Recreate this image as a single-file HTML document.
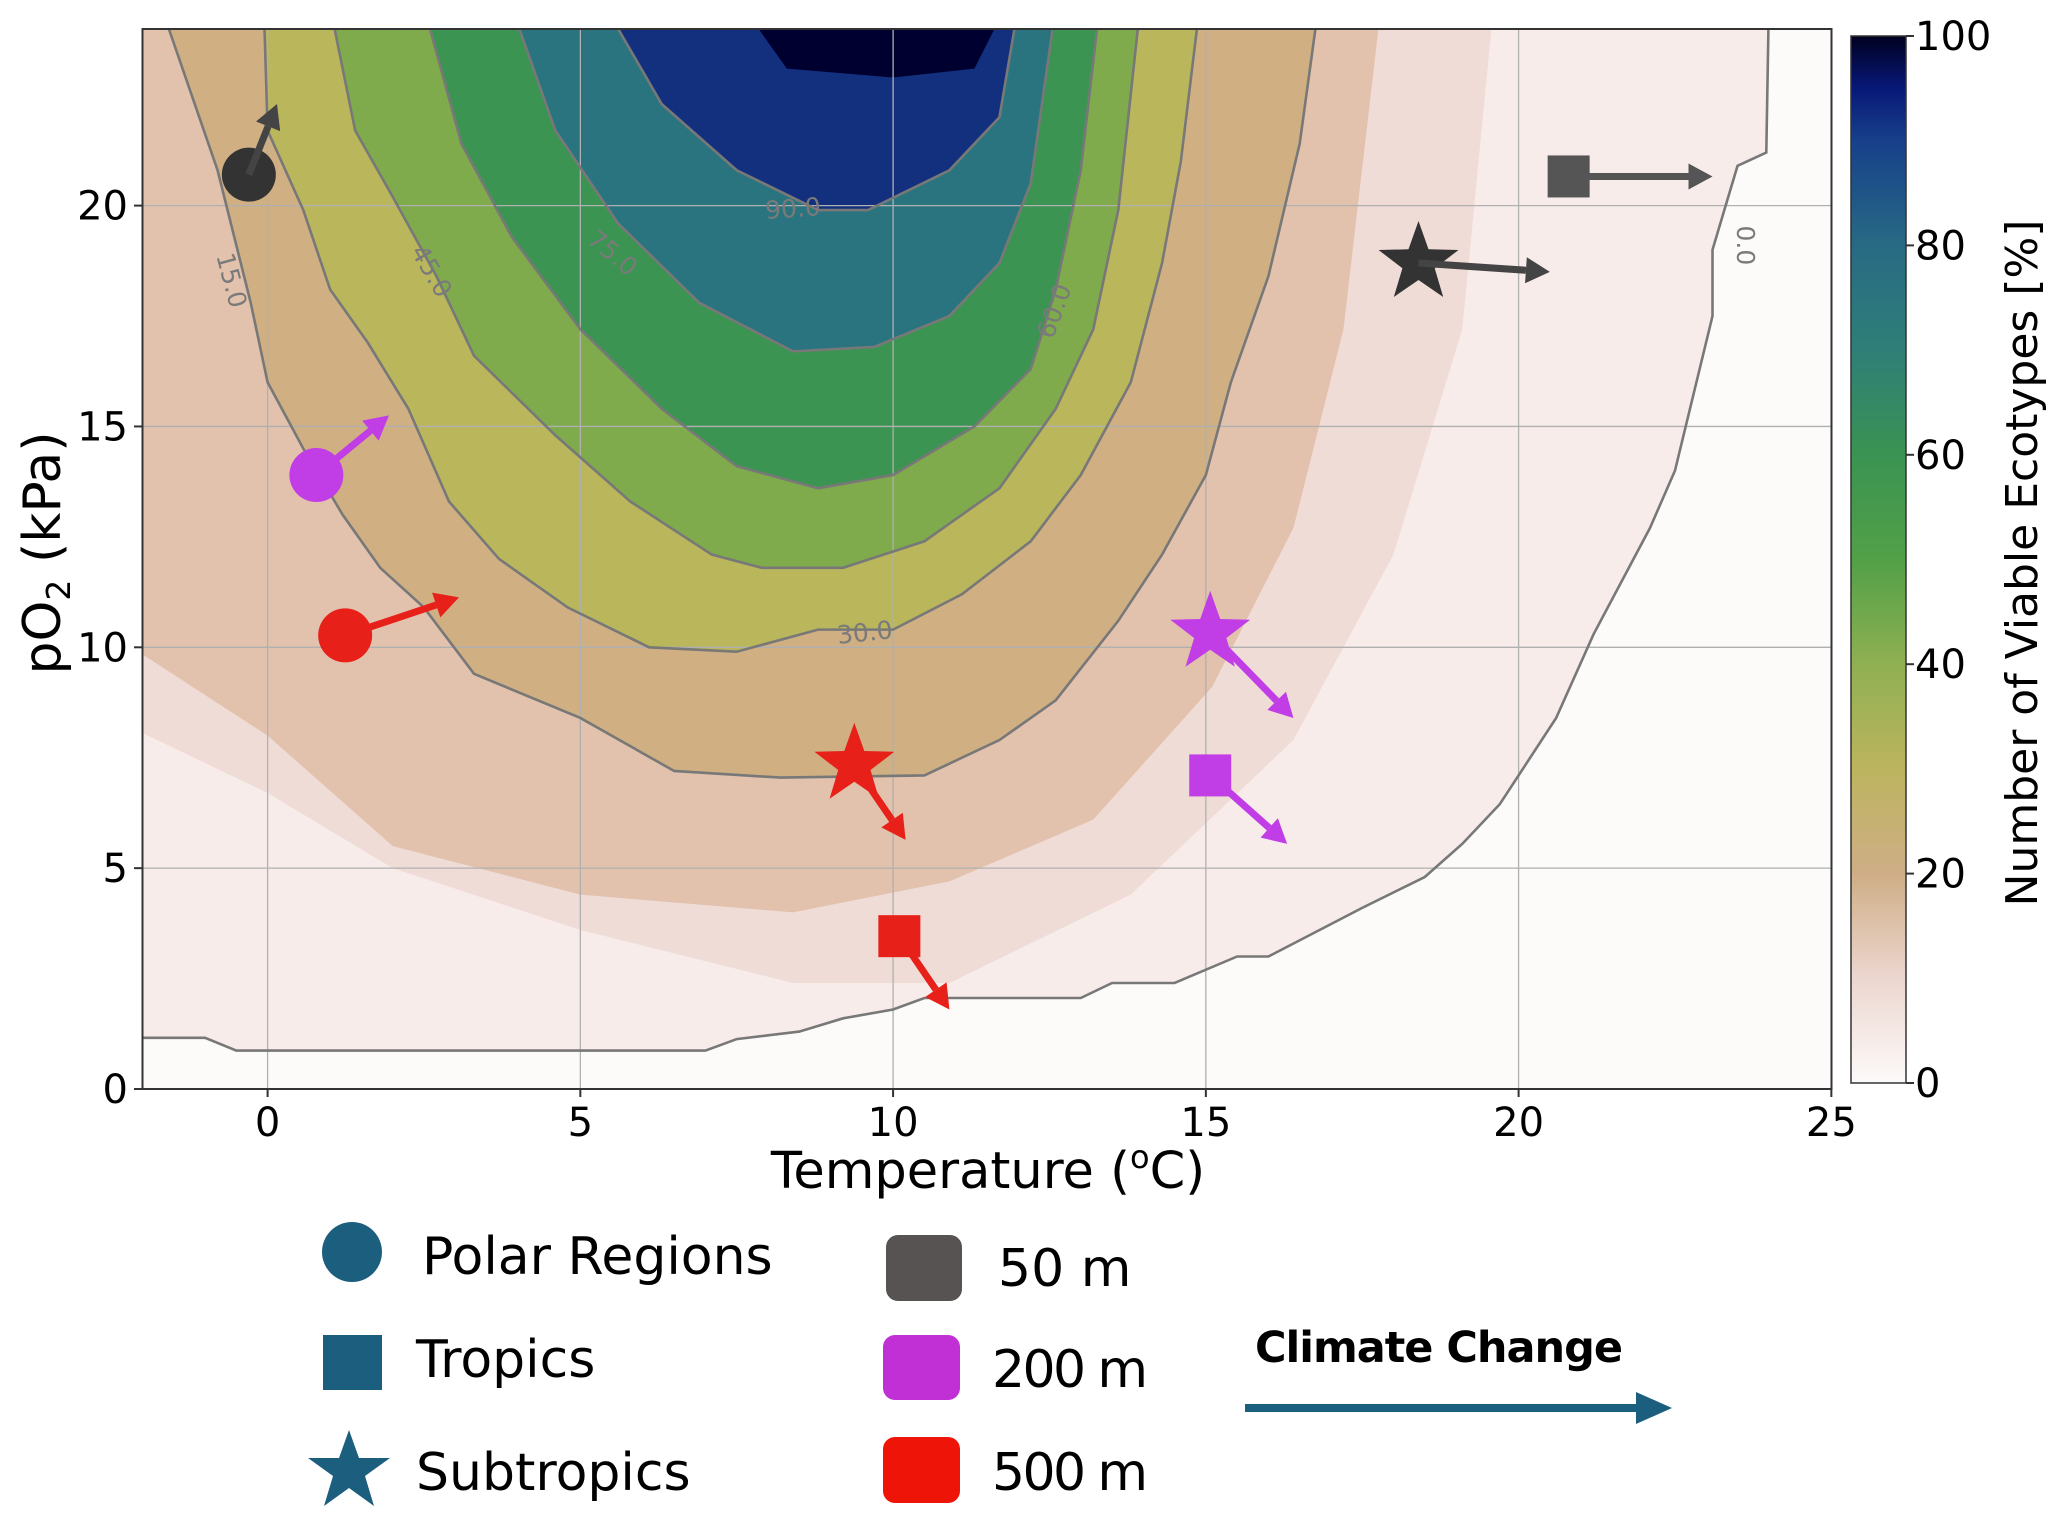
<!DOCTYPE html>
<html><head><meta charset="utf-8"><style>
body{margin:0;background:#fff;font-family:"Liberation Sans","DejaVu Sans",sans-serif;}
svg text{font-family:"DejaVu Sans","Liberation Sans",sans-serif;}
</style></head><body>
<svg id="chart" width="2067" height="1522" viewBox="0 0 2067 1522" xmlns="http://www.w3.org/2000/svg">
<defs>
<linearGradient id="cbg" x1="0" y1="1" x2="0" y2="0">
<stop offset="0" stop-color="#fdfafa"/><stop offset="0.1" stop-color="#ecd6cf"/><stop offset="0.2" stop-color="#cfae86"/><stop offset="0.3" stop-color="#bcb45e"/><stop offset="0.4" stop-color="#8fb052"/><stop offset="0.5" stop-color="#52a048"/><stop offset="0.6" stop-color="#3a9352"/><stop offset="0.7" stop-color="#2f7f78"/><stop offset="0.8" stop-color="#286a84"/><stop offset="0.9" stop-color="#17408a"/><stop offset="0.95" stop-color="#081878"/><stop offset="1" stop-color="#000020"/>
</linearGradient>
<clipPath id="pc"><rect x="142.5" y="29" width="1689" height="1060"/></clipPath>
</defs>
<g id="plot" clip-path="url(#pc)"></g>
<g id="over"></g>
</svg>
<script>
const levels=[0,5,10,15,30,45,60,75,90,97];
const bandColors=["#f8eceb","#f0dcd6","#e2c2ad","#d0b082","#bab65c","#7fab4c","#3c9452","#2a7480","#12307e","#000030"];
const c0=[[-2.5,1.16],[-1,1.16],[-0.5,0.87],[7,0.87],[7.5,1.13],[8.5,1.3],[9.2,1.6],[10,1.8],[10.5,2.06],[13,2.06],[13.5,2.4],[14.5,2.4],[15.5,3.0],[16,3],[17.5,4.1],[18.5,4.8],[19.1,5.55],[19.7,6.45],[20.6,8.4],[21.2,10.3],[22.1,12.7],[22.5,14],[23.1,17.5],[23.1,19],[23.5,20.9],[23.96,21.2],[24,24.5]];
const c5=[[-2.5,8.4],[0,6.7],[2,5],[5,3.6],[8.4,2.4],[10.9,2.4],[13.8,4.4],[16.4,7.9],[18,12.1],[19.1,17.2],[19.6,24.5]];
const c10=[[-2.5,10.3],[0,8],[2,5.5],[5,4.4],[8.4,4],[10.9,4.7],[13.2,6.1],[15.1,9.1],[16.4,12.7],[17.2,17.2],[17.8,24.5]];
const c15=[[-1.7,24.5],[-0.8,20.8],[-0.27,17.8],[0,16],[0.57,14.5],[1.2,13],[1.8,11.8],[2.5,10.9],[3.3,9.4],[5,8.4],[6.5,7.2],[8.2,7.05],[10.5,7.1],[11.7,7.9],[12.6,8.8],[13.6,10.6],[14.3,12.1],[15,13.9],[15.4,16],[16,18.4],[16.5,21.4],[16.8,24.5]];
const c30=[[-0.06,24.5],[0,21.7],[0.57,19.9],[1,18.1],[1.6,16.9],[2.25,15.4],[2.9,13.3],[3.7,12],[4.8,10.9],[6.1,10],[7.5,9.9],[8.8,10.4],[10,10.4],[11.1,11.2],[12.2,12.4],[13,13.9],[13.8,16],[14.3,18.7],[14.6,21],[14.9,24.5]];
const c45=[[1,24.5],[1.4,21.7],[2,20.2],[2.7,18.4],[3.3,16.6],[4.6,14.8],[5.8,13.3],[7.1,12.1],[7.9,11.8],[9.2,11.8],[10.5,12.4],[11.7,13.6],[12.6,15.4],[13.2,17.2],[13.6,19.9],[13.95,24.5]];
const c60=[[2.5,24.5],[3.1,21.4],[3.9,19.3],[5,17.2],[6.3,15.4],[7.5,14.1],[8.8,13.6],[10,13.9],[11.3,15],[12.2,16.3],[12.6,18.1],[13,20.8],[13.3,24.5]];
const c75=[[3.9,24.5],[4.6,21.7],[5.6,19.6],[6.9,17.8],[8.4,16.7],[9.7,16.8],[10.9,17.5],[11.7,18.7],[12.2,20.5],[12.6,24.5]];
const c90=[[5.4,24.5],[6.3,22.3],[7.5,20.8],[8.8,19.9],[9.6,19.9],[10.9,20.8],[11.7,22],[12,24.5]];
const c97=[[7.6,24.5],[8.3,23.1],[10,22.9],[11.3,23.1],[11.8,24.5]];
const contours=[c0,c5,c10,c15,c30,c45,c60,c75,c90,c97];
const lineLevels=[0,15,30,45,60,75,90];
const xTicks=[0,5,10,15,20,25];
const yTicks=[0,5,10,15,20];
const cbTicks=[0,20,40,60,80,100];
const labelText=["15.0","45.0","75.0","90.0","60.0","30.0","0.0"];
const labelT=[-0.6,2.6,5.5,8.4,12.6,9.55,23.6];
const labelP=[18.3,18.5,18.9,19.9,17.6,10.3,19.1];
const labelRot=[75,60,40,-4,-70,-6,90];
const mkX=[-0.3,0.78,1.24,20.8,18.4,15.07,15.07,9.38,10.1];
const mkY=[20.7,13.9,10.27,20.66,18.7,10.33,7.1,7.34,3.46];
const arX=[0.15,1.94,3.06,23.1,20.5,16.4,16.3,10.2,10.9];
const arY=[22.3,15.25,11.13,20.66,18.5,8.4,5.55,5.64,1.8];
const mkShape=["circle","circle","circle","square","star","star","square","star","square"];
const mkColor=["#333333","#c13ee6","#e8201a","#555555","#333333","#c13ee6","#c13ee6","#e8201a","#e8201a"];

const X=t=>267.6+62.55*t, Y=p=>1089-44.17*p;
const NS="http://www.w3.org/2000/svg";
const plot=document.getElementById('plot'), over=document.getElementById('over');
function mk(tag,attrs,parent){const e=document.createElementNS(NS,tag);for(const k in attrs)e.setAttribute(k,attrs[k]);parent.appendChild(e);return e;}
let bg=mk('rect',{x:142.5,y:29,width:1689,height:1060,fill:'#fdfafa'},plot);


contours.forEach((c,i)=>{
  const pts=c.map(q=>X(q[0])+','+Y(q[1]));
  const d='M'+X(c[0][0])+','+Y(25)+' L'+pts.join(' L')+' L'+X(c[c.length-1][0])+','+Y(25)+'Z';
  const e=mk('path',{d:d,fill:bandColors[i]},plot);
  
  
});
xTicks.forEach(t=>{const g=mk('line',{x1:X(t),x2:X(t),y1:29,y2:1089,stroke:'#b0b0b0','stroke-width':1.3},plot);

});
yTicks.forEach(p=>{const g=mk('line',{x1:142.5,x2:1831.5,y1:Y(p),y2:Y(p),stroke:'#b0b0b0','stroke-width':1.3},plot);

});
contours.forEach((c,i)=>{
  if(lineLevels.indexOf(levels[i])<0)return;
  const e=mk('polyline',{points:c.map(q=>X(q[0])+','+Y(q[1])).join(' '),fill:'none',stroke:'#787878','stroke-width':2.6},plot);
  
  
});
labelText.forEach((s,i)=>{
  const x=X(labelT[i]),y=Y(labelP[i]);
  const e=mk('text',{x:x,y:y,'font-size':25,fill:'#7a7a7a','text-anchor':'middle','dominant-baseline':'middle',transform:`rotate(${labelRot[i]} ${x} ${y})`},plot);
  e.textContent=s;
  
  
});
function starPts(cx,cy,R,r){let a=[];for(let k=0;k<10;k++){const ang=-Math.PI/2+k*Math.PI/5;const rr=k%2?r:R;a.push((cx+rr*Math.cos(ang)).toFixed(1)+','+(cy+rr*Math.sin(ang)).toFixed(1));}return a.join(' ');}
mkX.forEach((t,i)=>{
  const x=X(t),y=Y(mkY[i]),ax=X(arX[i]),ay=Y(arY[i]);
  const col=mkColor[i]==='#333333'?'#444':mkColor[i];
  let s;
  if(mkShape[i]==='circle') s=mk('circle',{cx:x,cy:y,r:27,fill:mkColor[i]},plot);
  else if(mkShape[i]==='square') s=mk('rect',{x:x-21,y:y-21,width:42,height:42,fill:mkColor[i]},plot);
  else s=mk('polygon',{points:starPts(x,y,42,17),fill:mkColor[i]},plot);
  
  
  const dx=ax-x,dy=ay-y,L=Math.hypot(dx,dy),ux=dx/L,uy=dy/L,hl=24,hw=13;
  const bx=ax-ux*hl,by=ay-uy*hl;
  const ar=mk('g',{},plot);
  
  
  mk('line',{x1:x,y1:y,x2:bx,y2:by,stroke:col,'stroke-width':7},ar);
  mk('polygon',{points:`${ax},${ay} ${bx-uy*hw},${by+ux*hw} ${bx+uy*hw},${by-ux*hw}`,fill:col},ar);
});
let fr=mk('rect',{x:142.5,y:29,width:1689,height:1060,fill:'none',stroke:'#333','stroke-width':2},over);


xTicks.forEach(t=>{mk('line',{x1:X(t),x2:X(t),y1:1089,y2:1097,stroke:'#333','stroke-width':2},over);
const e=mk('text',{x:X(t),y:1136,'font-size':40,'text-anchor':'middle'},over);e.textContent=t;

});
yTicks.forEach(p=>{mk('line',{x1:134,x2:142.5,y1:Y(p),y2:Y(p),stroke:'#333','stroke-width':2},over);
const e=mk('text',{x:128,y:Y(p)+14,'font-size':40,'text-anchor':'end'},over);e.textContent=p;

});
let cb=mk('rect',{x:1851,y:36,width:55,height:1047,fill:'url(#cbg)',stroke:'#333','stroke-width':1.5},over);


cbTicks.forEach(v=>{const y=1083-10.47*v;mk('line',{x1:1906,x2:1914,y1:y,y2:y,stroke:'#333','stroke-width':2},over);
const e=mk('text',{x:1915,y:y+14,'font-size':40},over);e.textContent=v;

});
</script>
<svg style="position:absolute;left:0;top:0" width="2067" height="1522">
<text x="988" y="1188" font-size="51" text-anchor="middle" font-family="DejaVu Sans, sans-serif">Temperature (<tspan font-size="32" dy="-20">o</tspan><tspan dy="20">C)</tspan></text>
<text transform="translate(60,553) rotate(-90)" font-size="52" text-anchor="middle" font-family="DejaVu Sans, sans-serif">pO<tspan font-size="33" dy="10">2</tspan><tspan dy="-10"> (kPa)</tspan></text>
<text transform="translate(2037,563) rotate(-90)" font-size="44" text-anchor="middle" font-family="DejaVu Sans, sans-serif">Number of Viable Ecotypes [%]</text>
<g font-family="Liberation Sans, sans-serif" font-size="52">
<circle cx="352" cy="1252" r="30" fill="#1b5e7e"/>
<text x="422" y="1274">Polar Regions</text>
<rect x="323" y="1335" width="59" height="55" fill="#1b5e7e"/>
<text x="416" y="1377">Tropics</text>
<polygon fill="#1b5e7e" points="349,1430 359,1458 390,1458 365,1476 374,1506 349,1488 324,1506 333,1476 308,1458 339,1458"/>
<text x="416" y="1490">Subtropics</text>
<rect x="886" y="1235" width="76" height="66" rx="12" fill="#575353"/>
<text x="998" y="1286">50 m</text>
<rect x="883" y="1335" width="77" height="65" rx="12" fill="#c030d4"/>
<text x="992" y="1387" textLength="156">200 m</text>
<rect x="883" y="1437" width="77" height="66" rx="12" fill="#ee1508"/>
<text x="992" y="1490" textLength="156">500 m</text>
<text x="1255" y="1362" font-size="43" font-weight="bold" textLength="368">Climate Change</text>
<line x1="1245" y1="1408" x2="1640" y2="1408" stroke="#1b5e7e" stroke-width="8"/>
<polygon points="1672,1408 1636,1392 1636,1424" fill="#1b5e7e"/>
</g>
</svg>
</body></html>
